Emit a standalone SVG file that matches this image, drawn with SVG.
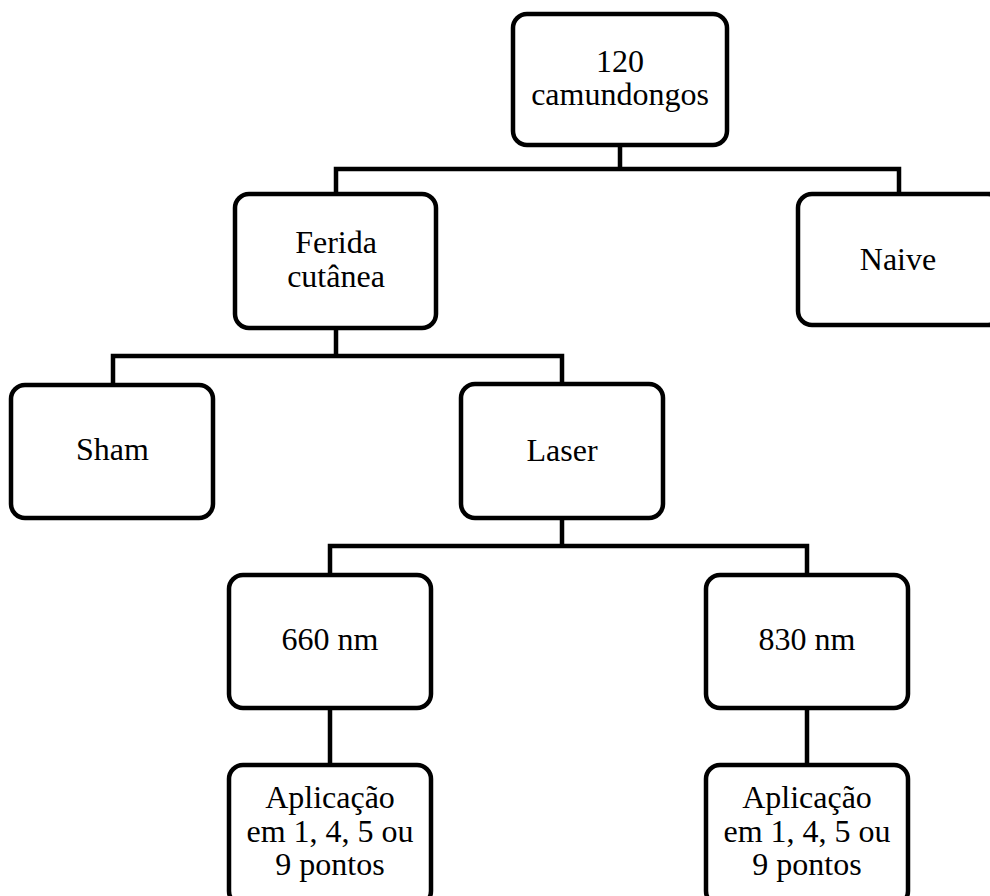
<svg xmlns="http://www.w3.org/2000/svg" width="990" height="896" viewBox="0 0 990 896">
<style>
.box{fill:#fff;stroke:#000;stroke-width:4.5}
.con{fill:none;stroke:#000;stroke-width:4.5;stroke-linejoin:miter}
text{font-family:"Liberation Serif","Times New Roman",serif;font-size:32px;fill:#000;text-anchor:middle}
</style>
<rect width="990" height="896" fill="#fff"/>
<g id="connectors">
<path class="con" d="M620 145 V169 M336 194 V169 H899 V194"/>
<path class="con" d="M336 328 V356 M113 385 V356 H562 V384"/>
<path class="con" d="M562 518 V546 M330 575 V546 H807 V575"/>
<path class="con" d="M330 708 V765 M807 708 V765"/>
</g>
<g id="n120">
<rect class="box" x="513" y="14" width="214" height="131" rx="14"/>
<text x="620" y="72">120</text>
<text x="620" y="105">camundongos</text>
</g>
<g id="ferida">
<rect class="box" x="235" y="194" width="201" height="134" rx="14"/>
<text x="336" y="253">Ferida</text>
<text x="336" y="287">cutânea</text>
</g>
<g id="naive">
<rect class="box" x="798" y="194" width="204" height="131" rx="14"/>
<text x="898" y="270">Naive</text>
</g>
<g id="sham">
<rect class="box" x="11" y="385" width="202" height="133" rx="14"/>
<text x="112.5" y="460">Sham</text>
</g>
<g id="laser">
<rect class="box" x="461" y="384" width="202" height="134" rx="14"/>
<text x="562" y="461">Laser</text>
</g>
<g id="nm660">
<rect class="box" x="229" y="575" width="202" height="133" rx="14"/>
<text x="330" y="650">660 nm</text>
</g>
<g id="nm830">
<rect class="box" x="706" y="575" width="202" height="133" rx="14"/>
<text x="807" y="650">830 nm</text>
</g>
<g id="apl660">
<rect class="box" x="229" y="765" width="202" height="140" rx="14"/>
<text x="330" y="808">Aplicação</text>
<text x="330" y="842">em 1, 4, 5 ou</text>
<text x="330" y="875">9 pontos</text>
</g>
<g id="apl830">
<rect class="box" x="706" y="765" width="202" height="140" rx="14"/>
<text x="807" y="808">Aplicação</text>
<text x="807" y="842">em 1, 4, 5 ou</text>
<text x="807" y="875">9 pontos</text>
</g>
</svg>
